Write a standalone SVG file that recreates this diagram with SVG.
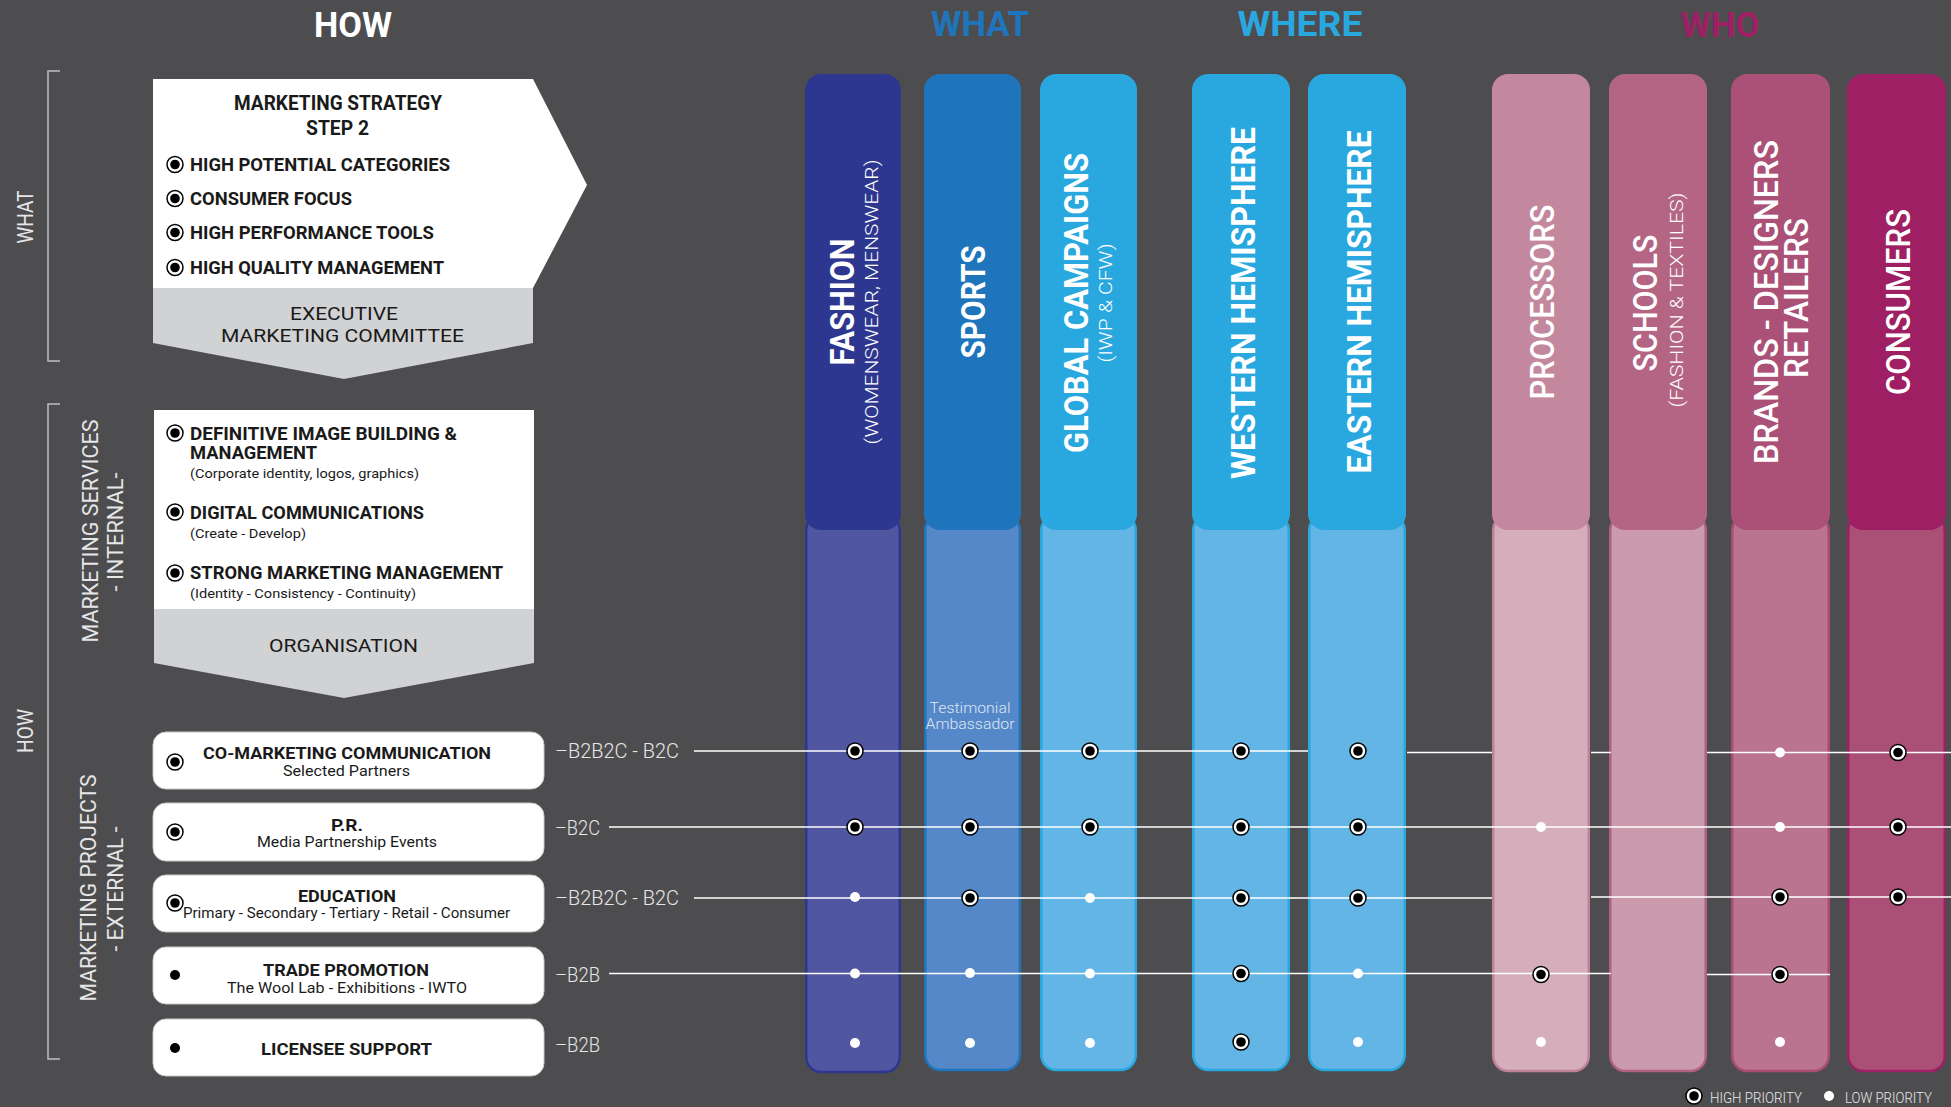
<svg xmlns="http://www.w3.org/2000/svg" width="1951" height="1107" viewBox="0 0 1951 1107">
<style>
text{font-family:Roboto,"Liberation Sans","DejaVu Sans",sans-serif}
.ttl{font-size:35px;font-weight:700;text-anchor:middle}
.blk{fill:#1a1a1a}
.lt{fill:#e8e8e8;font-weight:300}
.side{fill:#e6e6e6;font-size:22px;font-weight:400;text-anchor:middle}
.b18{font-size:18px;font-weight:700;fill:#1a1a1a}
.sub{font-size:13.5px;font-weight:400;fill:#1a1a1a}
.gl{font-size:19px;font-weight:400;fill:#1a1a1a;text-anchor:middle}
.pt{font-size:17px;font-weight:700;fill:#1a1a1a;text-anchor:middle}
.ps{font-size:14px;font-weight:400;fill:#1a1a1a;text-anchor:middle}
.lab{font-size:21px;font-weight:300;fill:#e6e6e6}
.ch{fill:#fff;font-size:33px;text-anchor:middle}
.cb{font-weight:700}
.cm{font-weight:500}
.cs{fill:#fff;font-size:19px;font-weight:300;text-anchor:middle}
.conn{stroke:#fff;stroke-width:1.6;fill:none}
.brk{stroke:#bcbec0;stroke-width:1.5;fill:none}
.pbox{fill:#fff;stroke:#c8c8c8;stroke-width:1}
</style>
<defs>
<g id="ring"><circle r="8" fill="#fff" stroke="#000" stroke-width="1.5"/><circle r="4.8" fill="#000"/></g>
<circle id="dot" r="5" fill="#fff"/>
<circle id="bdot" r="5" fill="#000"/>
</defs>
<rect width="1951" height="1107" fill="#4d4d4f"/>

<g id="titles">
<text class="ttl" x="353" y="37" fill="#fff" textLength="78" lengthAdjust="spacingAndGlyphs">HOW</text>
<text class="ttl" x="980" y="36" fill="#1f75bc" textLength="98" lengthAdjust="spacingAndGlyphs">WHAT</text>
<text class="ttl" x="1300" y="36" fill="#29a8e0" textLength="125" lengthAdjust="spacingAndGlyphs">WHERE</text>
<text class="ttl" x="1720" y="37" fill="#9e1f63" textLength="79" lengthAdjust="spacingAndGlyphs">WHO</text>
</g>

<g id="side-labels">
<path class="brk" d="M60,71 H48 V361 H60"/>
<path class="brk" d="M60,404 H48 V1059 H60"/>
<text class="side" transform="translate(32.5,217) rotate(-90)" font-size="21" textLength="53" lengthAdjust="spacingAndGlyphs">WHAT</text>
<text class="side" transform="translate(33,731) rotate(-90)" font-size="21" textLength="44" lengthAdjust="spacingAndGlyphs">HOW</text>
<text class="side" transform="translate(97.5,531) rotate(-90)" textLength="223" lengthAdjust="spacingAndGlyphs">MARKETING SERVICES</text>
<text class="side" transform="translate(122.5,532) rotate(-90)" textLength="119" lengthAdjust="spacingAndGlyphs">- INTERNAL-</text>
<text class="side" transform="translate(96,888) rotate(-90)" textLength="227" lengthAdjust="spacingAndGlyphs">MARKETING PROJECTS</text>
<text class="side" transform="translate(123,889) rotate(-90)" textLength="125" lengthAdjust="spacingAndGlyphs">- EXTERNAL -</text>
</g>

<g id="strategy">
<path d="M153,79 H533 L587,185 L533,288 H153 Z" fill="#fff"/>
<path d="M153,288 H533 V343 L344,379 L153,343 Z" fill="#d1d2d4"/>
<text x="338" y="110" font-size="21" font-weight="700" class="blk" text-anchor="middle" textLength="208" lengthAdjust="spacingAndGlyphs">MARKETING STRATEGY</text>
<text x="337.5" y="135" font-size="21" font-weight="700" class="blk" text-anchor="middle" textLength="63" lengthAdjust="spacingAndGlyphs">STEP 2</text>
<use href="#ring" x="175" y="164.5"/>
<use href="#ring" x="175" y="198.5"/>
<use href="#ring" x="175" y="232.5"/>
<use href="#ring" x="175" y="267.5"/>
<text x="190" y="171" class="b18" font-weight="600" textLength="260" lengthAdjust="spacingAndGlyphs">HIGH POTENTIAL CATEGORIES</text>
<text x="190" y="205" class="b18" font-weight="600" textLength="162" lengthAdjust="spacingAndGlyphs">CONSUMER FOCUS</text>
<text x="190" y="239" class="b18" font-weight="600" textLength="244" lengthAdjust="spacingAndGlyphs">HIGH PERFORMANCE TOOLS</text>
<text x="190" y="274" class="b18" font-weight="600" textLength="254" lengthAdjust="spacingAndGlyphs">HIGH QUALITY MANAGEMENT</text>
<text x="344" y="320" class="gl" textLength="108" lengthAdjust="spacingAndGlyphs">EXECUTIVE</text>
<text x="342.5" y="342" class="gl" textLength="243" lengthAdjust="spacingAndGlyphs">MARKETING COMMITTEE</text>
</g>

<g id="services">
<rect x="154" y="410" width="380" height="199" fill="#fff"/>
<path d="M154,609 H534 V663 L344,698 L154,663 Z" fill="#d1d2d4"/>
<use href="#ring" x="175" y="433"/>
<use href="#ring" x="175" y="512"/>
<use href="#ring" x="175" y="573"/>
<text x="190" y="440" class="b18" textLength="267" lengthAdjust="spacingAndGlyphs">DEFINITIVE IMAGE BUILDING &amp;</text>
<text x="190" y="459" class="b18" textLength="127" lengthAdjust="spacingAndGlyphs">MANAGEMENT</text>
<text x="190" y="478" class="sub" textLength="229" lengthAdjust="spacingAndGlyphs">(Corporate identity, logos, graphics)</text>
<text x="190" y="519" class="b18" textLength="234" lengthAdjust="spacingAndGlyphs">DIGITAL COMMUNICATIONS</text>
<text x="190" y="538" class="sub" textLength="116" lengthAdjust="spacingAndGlyphs">(Create - Develop)</text>
<text x="190" y="579" class="b18" textLength="313" lengthAdjust="spacingAndGlyphs">STRONG MARKETING MANAGEMENT</text>
<text x="190" y="598" class="sub" textLength="226" lengthAdjust="spacingAndGlyphs">(Identity - Consistency - Continuity)</text>
<text x="343.5" y="652" class="gl" textLength="149" lengthAdjust="spacingAndGlyphs">ORGANISATION</text>
</g>

<g id="project-comarketing">
<rect class="pbox" x="153" y="732" width="391" height="57" rx="13"/>
<use href="#ring" x="175" y="762"/>
<text x="347" y="758.5" class="pt" textLength="288" lengthAdjust="spacingAndGlyphs">CO-MARKETING COMMUNICATION</text>
<text x="346.5" y="775.5" class="ps" textLength="127" lengthAdjust="spacingAndGlyphs">Selected Partners</text>
<text x="555" y="758" class="lab" textLength="124" lengthAdjust="spacingAndGlyphs">–B2B2C - B2C</text>
</g>
<g id="project-pr">
<rect class="pbox" x="153" y="803" width="391" height="58" rx="13"/>
<use href="#ring" x="175" y="832"/>
<text x="347" y="830.5" class="pt" textLength="32" lengthAdjust="spacingAndGlyphs">P.R.</text>
<text x="347" y="847" class="ps" textLength="180" lengthAdjust="spacingAndGlyphs">Media Partnership Events</text>
<text x="555" y="835" class="lab" textLength="45" lengthAdjust="spacingAndGlyphs">–B2C</text>
</g>
<g id="project-education">
<rect class="pbox" x="153" y="875" width="391" height="57" rx="13"/>
<use href="#ring" x="175" y="903"/>
<text x="347" y="901.5" class="pt" textLength="98" lengthAdjust="spacingAndGlyphs">EDUCATION</text>
<text x="346.5" y="918" class="ps" textLength="327" lengthAdjust="spacingAndGlyphs">Primary - Secondary - Tertiary - Retail - Consumer</text>
<text x="555" y="905" class="lab" textLength="124" lengthAdjust="spacingAndGlyphs">–B2B2C - B2C</text>
</g>
<g id="project-trade">
<rect class="pbox" x="153" y="947" width="391" height="57" rx="13"/>
<use href="#bdot" x="175" y="975"/>
<text x="346" y="975.5" class="pt" textLength="166" lengthAdjust="spacingAndGlyphs">TRADE PROMOTION</text>
<text x="347" y="992.5" class="ps" textLength="240" lengthAdjust="spacingAndGlyphs">The Wool Lab - Exhibitions - IWTO</text>
<text x="555" y="982" class="lab" textLength="45" lengthAdjust="spacingAndGlyphs">–B2B</text>
</g>
<g id="project-licensee">
<rect class="pbox" x="153" y="1019" width="391" height="57" rx="13"/>
<use href="#bdot" x="175" y="1048"/>
<text x="346.5" y="1055" class="pt" textLength="171" lengthAdjust="spacingAndGlyphs">LICENSEE SUPPORT</text>
<text x="555" y="1052" class="lab" textLength="45" lengthAdjust="spacingAndGlyphs">–B2B</text>
</g>

<g id="col-fashion">
<rect x="806.25" y="515" width="93.5" height="557" rx="15" fill="#5156a0" stroke="#2e3790" stroke-width="2.5"/>
<rect x="805" y="74" width="96" height="456" rx="16" fill="#2e3790"/>
<text class="ch cb" transform="translate(853.5,302) rotate(-90)" textLength="127" lengthAdjust="spacingAndGlyphs">FASHION</text>
<text class="cs" transform="translate(878,302) rotate(-90)" textLength="285" lengthAdjust="spacingAndGlyphs">(WOMENSWEAR, MENSWEAR)</text>
</g>
<g id="col-sports">
<rect x="925.25" y="515" width="94.5" height="555" rx="15" fill="#5588c8" stroke="#1f75bc" stroke-width="2.5"/>
<rect x="924" y="74" width="97" height="456" rx="16" fill="#1f75bc"/>
<text class="ch cb" transform="translate(985,302) rotate(-90)" textLength="113" lengthAdjust="spacingAndGlyphs">SPORTS</text>
<text x="970" y="713" fill="#dfe6f3" font-size="15" font-weight="300" text-anchor="middle" textLength="81" lengthAdjust="spacingAndGlyphs">Testimonial</text>
<text x="970" y="729" fill="#dfe6f3" font-size="15" font-weight="300" text-anchor="middle" textLength="89" lengthAdjust="spacingAndGlyphs">Ambassador</text>
</g>
<g id="col-global">
<rect x="1041.25" y="515" width="94.5" height="555" rx="15" fill="#62b5e5" stroke="#29a8e0" stroke-width="2.5"/>
<rect x="1040" y="74" width="97" height="456" rx="16" fill="#29a8e0"/>
<text class="ch cb" transform="translate(1088,303) rotate(-90)" textLength="300" lengthAdjust="spacingAndGlyphs">GLOBAL CAMPAIGNS</text>
<text class="cs" transform="translate(1112,303) rotate(-90)" textLength="119" lengthAdjust="spacingAndGlyphs">(IWP &amp; CFW)</text>
</g>
<g id="col-western">
<rect x="1193.25" y="515" width="95.5" height="555" rx="15" fill="#62b5e5" stroke="#29a8e0" stroke-width="2.5"/>
<rect x="1192" y="74" width="98" height="456" rx="16" fill="#29a8e0"/>
<text class="ch cb" transform="translate(1255,303) rotate(-90)" textLength="352" lengthAdjust="spacingAndGlyphs">WESTERN HEMISPHERE</text>
</g>
<g id="col-eastern">
<rect x="1309.25" y="515" width="95.5" height="555" rx="15" fill="#62b5e5" stroke="#29a8e0" stroke-width="2.5"/>
<rect x="1308" y="74" width="98" height="456" rx="16" fill="#29a8e0"/>
<text class="ch cb" transform="translate(1371,302) rotate(-90)" textLength="343" lengthAdjust="spacingAndGlyphs">EASTERN HEMISPHERE</text>
</g>
<g id="col-processors">
<rect x="1493.25" y="515" width="95.5" height="556" rx="15" fill="#d6aebb" stroke="#c0829a" stroke-width="2.5"/>
<rect x="1492" y="74" width="98" height="456" rx="16" fill="#c3889e"/>
<text class="ch cm" transform="translate(1554,302) rotate(-90)" textLength="195" lengthAdjust="spacingAndGlyphs">PROCESSORS</text>
</g>
<g id="col-schools">
<rect x="1610.25" y="515" width="95.5" height="556" rx="15" fill="#cb9aac" stroke="#b06080" stroke-width="2.5"/>
<rect x="1609" y="74" width="98" height="456" rx="16" fill="#b46584"/>
<text class="ch cm" transform="translate(1657,303) rotate(-90)" textLength="137" lengthAdjust="spacingAndGlyphs">SCHOOLS</text>
<text class="cs" transform="translate(1683,300) rotate(-90)" textLength="215" lengthAdjust="spacingAndGlyphs">(FASHION &amp; TEXTILES)</text>
</g>
<g id="col-brands">
<rect x="1732.25" y="515" width="96.5" height="556" rx="15" fill="#bb748f" stroke="#a94b73" stroke-width="2.5"/>
<rect x="1731" y="74" width="99" height="456" rx="16" fill="#ab5077"/>
<text class="ch cm" transform="translate(1778,302) rotate(-90)" textLength="324" lengthAdjust="spacingAndGlyphs">BRANDS - DESIGNERS</text>
<text class="ch cm" transform="translate(1808,298) rotate(-90)" textLength="160" lengthAdjust="spacingAndGlyphs">RETAILERS</text>
</g>
<g id="col-consumers">
<rect x="1848.25" y="515" width="96.5" height="556" rx="15" fill="#aa4f76" stroke="#9e1f63" stroke-width="2.5"/>
<rect x="1847" y="74" width="99" height="456" rx="16" fill="#9e1f63"/>
<text class="ch cm" transform="translate(1910,302) rotate(-90)" textLength="186" lengthAdjust="spacingAndGlyphs">CONSUMERS</text>
</g>

<g id="connectors">
<path class="conn" d="M694,751 H1308 M1407,752.5 H1492 M1591,752.5 H1611 M1707,752.5 H1951"/>
<path class="conn" d="M609,827 H1951"/>
<path class="conn" d="M694,898 H1492 M1591,897 H1951"/>
<path class="conn" d="M609,973.5 H1611 M1707,974.5 H1830"/>
</g>

<g id="markers">
<use href="#ring" x="855" y="751"/><use href="#ring" x="970" y="751"/><use href="#ring" x="1090" y="751"/><use href="#ring" x="1241" y="751"/><use href="#ring" x="1358" y="751"/><use href="#dot" x="1780" y="752.5"/><use href="#ring" x="1898" y="752.5"/>
<use href="#ring" x="855" y="827"/><use href="#ring" x="970" y="827"/><use href="#ring" x="1090" y="827"/><use href="#ring" x="1241" y="827"/><use href="#ring" x="1358" y="827"/><use href="#dot" x="1541" y="827"/><use href="#dot" x="1780" y="827"/><use href="#ring" x="1898" y="827"/>
<use href="#dot" x="855" y="897"/><use href="#ring" x="970" y="898"/><use href="#dot" x="1090" y="898"/><use href="#ring" x="1241" y="898"/><use href="#ring" x="1358" y="898"/><use href="#ring" x="1780" y="897"/><use href="#ring" x="1898" y="897"/>
<use href="#dot" x="855" y="973.5"/><use href="#dot" x="970" y="973"/><use href="#dot" x="1090" y="973.5"/><use href="#ring" x="1241" y="973.5"/><use href="#dot" x="1358" y="973.5"/><use href="#ring" x="1541" y="974.5"/><use href="#ring" x="1780" y="974.5"/>
<use href="#dot" x="855" y="1043"/><use href="#dot" x="970" y="1043"/><use href="#dot" x="1090" y="1043"/><use href="#ring" x="1241" y="1042"/><use href="#dot" x="1358" y="1042"/><use href="#dot" x="1541" y="1042"/><use href="#dot" x="1780" y="1042"/>
</g>

<g id="legend">
<use href="#ring" x="1694" y="1096"/>
<text x="1710" y="1103" font-size="15" class="lt" textLength="92" lengthAdjust="spacingAndGlyphs">HIGH PRIORITY</text>
<use href="#dot" x="1829" y="1096"/>
<text x="1845" y="1103" font-size="15" class="lt" textLength="87" lengthAdjust="spacingAndGlyphs">LOW PRIORITY</text>
</g>
</svg>
